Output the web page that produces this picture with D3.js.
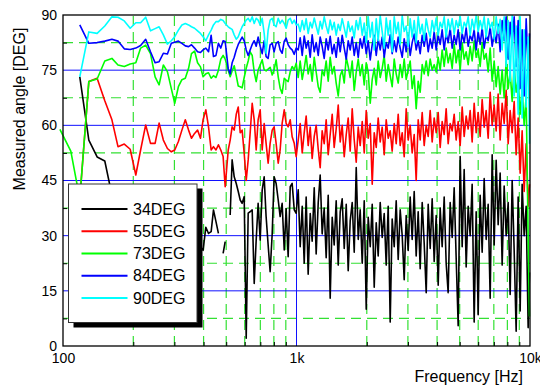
<!DOCTYPE html>
<html><head><meta charset="utf-8">
<script src="https://cdn.jsdelivr.net/npm/d3@7"></script>
<style>
body{margin:0;background:#fff;}
svg{display:block;font-family:"Liberation Sans",Arial,sans-serif;}
</style>
</head><body>
<svg id="chart" width="540" height="388"></svg>
<script>
// ---------- DATA ----------
const freqs = [97,108,118,129,140,151,162,172,183,194,205,215,226,237,248,258,269,280,291,301,
312,323,334,345,355,366,377,388,398,409,420,431,441,452,463,474,485,495,
510,520,530,541,552,563,574,585,597,609,621,633,646,659,672,685,699,713,727,741,
756,771,787,802,818,835,851,868,886,903,921,940,958,978,997,
1017,1037,1058,1079,1100,1122,1145,1167,1191,1214,1239,1263,1288,1314,1340,1367,1394,1422,1450,1479,
1509,1539,1569,1601,1633,1665,1698,1732,1767,1802,1838,1874,1912,1950,1989,2028,2069,2110,2152,2195,
2238,2283,2328,2375,2422,2470,2519,2569,2621,2673,2726,2780,2836,2892,2950,3008,3068,3129,3192,3255,
3320,3386,3454,3522,3593,3664,3737,3811,3887,3965,4044,4124,4206,4290,4375,4462,4551,4642,4734,4828,
4925,5023,5123,5225,5329,5435,5543,5653,5766,5881,5998,6117,6239,6364,6490,6620,6752,6886,7023,7163,
7305,7451,7599,7751,7905,8062,8223,8387,8554,8724,8898,9075,9255,9440,9628,9819,9950];

const deg34 = [null,null,73.2,56.0,51.4,50.3,41.0,38.0,36.0,39.0,34.0,36.0,33.0,37.0,32.0,35.0,30.0,34.0,31.0,35.0,
29.0,33.0,30.0,34.0,28.0,32.0,30.0,27.0,26.0,32.3,30.6,31.1,37.0,33.8,30.6,null,25.2,28.4,
null,35.6,50.6,46.0,44.2,42.0,39.7,38.8,40.6,2.1,36.1,36.5,37.0,17.0,28.8,38.8,28.8,42.4,46.0,35.2,
27.5,20.2,30.6,46.0,44.2,39.7,35.2,38.8,26.1,37.4,24.3,43.3,44.2,37.0,36.1,
42.5,27.0,38.0,22.5,40.5,19.5,36.0,28.5,43.0,25.0,39.0,46.5,30.5,37.5,24.0,41.0,13.0,35.0,27.5,39.5,
22.0,36.5,40.0,26.5,38.5,20.5,34.0,39.0,25.5,48.5,29.0,37.0,22.5,39.5,10.0,35.0,27.0,38.5,16.0,33.5,
24.5,39.0,29.5,36.0,22.0,38.0,6.5,34.5,27.0,39.5,23.5,37.0,30.0,18.0,35.5,26.0,40.5,29.0,42.0,24.5,
36.5,21.0,39.0,28.0,14.5,38.5,26.5,40.0,23.0,35.5,16.5,37.5,27.0,40.5,22.5,14.5,39.0,29.5,43.0,24.0,
5.5,51.5,27.0,48.0,21.5,38.0,30.0,44.0,6.5,36.5,8.5,41.0,25.5,45.5,29.0,38.5,13.0,52.0,27.5,50.5,
33.0,47.0,22.0,43.5,30.0,39.0,14.0,45.0,26.0,4.0,40.5,9.5,44.0,30.0,38.0,5.0,20.0];

const deg55 = [null,null,40.0,71.9,72.8,66.7,61.5,54.2,54.9,53.5,46.5,53.3,60.1,55.1,55.1,60.6,56.0,53.7,52.8,53.3,
55.6,58.7,61.5,58.7,56.5,57.8,58.7,56.5,61.5,64.2,59.6,53.3,54.2,53.3,54.7,53.3,51.5,43.3,
53.3,56.0,59.6,58.7,63.0,65.0,58.0,58.7,52.4,45.0,50.6,57.8,66.0,61.5,53.3,61.5,64.2,53.3,60.5,55.1,
49.7,55.1,58.7,59.6,55.1,49.7,53.3,60.5,64.2,60.5,59.6,61.5,56.9,55.1,51.5,
56.0,60.5,52.5,58.0,62.5,54.5,59.5,51.0,57.0,60.0,53.5,48.5,58.5,55.0,61.5,52.0,57.5,63.0,54.0,59.0,
65.5,55.5,60.0,51.5,57.5,62.0,53.0,64.5,56.0,50.0,59.5,54.5,61.0,52.5,64.0,56.5,60.5,44.0,58.0,54.0,
62.0,55.5,59.5,52.0,61.5,56.5,58.5,53.0,60.5,55.0,63.0,54.5,58.0,51.5,64.5,56.0,60.0,52.5,57.5,45.0,
61.5,56.0,63.5,54.5,60.0,57.0,64.0,55.5,62.0,58.0,63.5,54.0,61.0,57.5,64.5,55.0,60.5,58.5,63.0,56.0,
61.0,54.5,65.0,57.0,62.5,59.0,64.0,55.5,66.0,58.0,63.5,57.0,67.0,59.5,64.0,56.5,69.0,60.0,65.5,58.5,
68.5,56.0,66.0,60.5,69.5,55.0,64.0,58.0,66.5,52.0,62.0,47.0,58.5,42.0,55.0,38.0,44.0];

const deg73 = [58.9,53.0,40.0,71.9,72.6,77.5,78.2,76.4,76.0,76.7,77.0,81.0,81.8,79.5,73.2,71.0,76.4,74.6,70.0,66.0,
70.5,72.4,72.8,75.5,79.5,80.2,77.0,75.9,73.2,74.0,74.3,72.8,73.5,73.0,75.0,78.0,79.0,78.0,
75.0,73.2,74.8,76.2,73.5,70.7,70.5,70.2,73.0,75.5,77.5,80.0,79.0,74.5,71.9,75.0,76.4,77.8,75.1,74.8,
75.3,75.8,73.7,75.1,77.8,73.2,70.1,68.7,72.8,72.3,71.9,74.6,76.0,75.1,76.9,
73.0,77.5,72.5,75.5,79.0,74.0,76.5,72.0,78.5,74.5,70.5,69.0,75.0,73.5,77.5,72.0,78.5,74.0,76.0,71.5,
68.0,73.5,75.0,71.5,78.5,76.0,73.0,77.5,69.5,74.5,78.0,73.5,76.5,71.0,77.0,74.5,66.0,72.5,75.5,71.0,
77.5,73.0,75.5,79.0,72.0,76.5,73.5,70.5,78.0,74.0,71.5,76.5,73.0,78.0,72.5,75.0,77.5,70.0,73.5,64.5,
72.0,69.0,76.5,74.0,77.5,73.5,78.0,75.0,76.5,74.5,78.5,75.0,80.5,76.0,81.0,77.0,79.5,75.5,82.0,77.0,
80.5,75.0,82.5,78.0,80.0,76.5,81.5,77.5,83.0,78.5,80.5,76.0,82.5,78.0,79.5,74.5,81.0,72.0,77.5,70.5,
76.0,68.5,75.0,67.5,77.5,70.0,74.5,66.5,76.0,69.0,72.5,63.0,70.0,60.0,68.0,30.0,8.0];

const deg84 = [null,null,87.3,82.3,82.5,82.9,83.4,82.9,80.8,80.6,81.0,81.7,83.4,80.0,77.0,77.3,79.6,79.4,82.3,82.6,
82.9,82.3,81.6,81.4,81.9,81.0,80.0,79.8,80.5,81.0,80.0,84.5,78.7,79.0,82.3,81.0,83.0,82.8,
75.4,74.0,77.0,78.5,80.5,82.0,83.0,84.0,83.0,80.5,79.0,80.5,82.0,83.0,81.5,84.0,81.5,79.5,83.0,78.7,
78.2,81.9,82.3,80.0,82.3,82.8,80.5,79.6,82.8,83.7,81.9,81.0,80.5,79.3,81.0,
80.5,83.8,79.0,84.3,81.0,83.0,78.5,84.6,80.0,82.5,79.0,84.0,81.5,78.2,83.5,80.5,84.2,79.5,82.0,78.5,
83.8,80.0,84.5,81.0,78.0,83.0,80.5,84.0,79.0,82.5,78.5,83.5,81.0,84.2,79.5,83.0,77.8,82.0,84.5,79.0,
83.5,80.5,84.0,78.5,82.5,81.0,84.6,79.5,83.0,80.0,84.0,81.0,78.5,83.5,80.0,84.5,79.0,82.5,84.8,80.5,
83.0,79.5,84.5,81.5,85.0,80.0,83.5,81.0,85.5,80.5,84.5,82.0,86.0,80.5,85.0,82.5,86.5,81.0,84.5,82.0,
86.0,80.5,85.0,82.5,86.5,81.5,84.5,83.0,86.0,80.5,85.5,82.0,86.5,81.0,84.5,83.0,86.8,81.5,85.0,82.5,
87.5,80.0,88.5,83.0,89.5,78.0,88.0,82.0,89.5,76.0,88.5,70.0,86.0,68.0,89.0,75.0,85.0];

const deg90 = [null,null,73.2,85.4,85.0,87.0,89.5,89.4,88.4,86.4,87.9,87.9,89.4,85.7,86.3,86.8,84.6,82.1,83.0,84.1,
85.9,87.3,87.7,87.3,86.8,86.4,85.7,85.0,84.1,83.0,84.6,85.9,87.3,88.2,88.2,88.8,88.5,87.7,
86.8,86.4,86.1,84.6,83.4,84.1,85.5,86.8,87.7,88.6,89.1,88.2,89.5,87.7,89.1,88.6,87.3,89.1,85.0,79.6,
85.9,88.6,89.1,87.3,86.8,89.1,87.7,88.6,87.7,86.4,88.6,89.1,87.7,88.6,87.3,
87.5,85.5,88.5,86.0,89.0,85.0,88.0,86.5,89.2,87.0,84.8,88.3,86.2,89.5,87.0,85.0,88.6,86.0,88.0,84.5,
87.5,85.8,89.0,86.5,84.0,88.2,85.5,87.0,83.8,88.5,86.0,89.3,84.5,87.8,82.5,89.5,84.0,88.0,80.5,89.0,
83.0,89.8,85.5,81.0,89.2,84.5,88.5,80.0,89.5,85.0,88.0,82.0,89.8,85.5,87.0,81.5,89.0,84.0,88.5,82.5,
89.5,85.0,87.5,83.0,89.0,86.0,84.0,88.5,85.5,89.2,84.5,88.0,86.5,89.5,84.0,88.8,86.0,89.0,84.8,88.5,
86.5,89.6,85.0,88.0,86.8,89.5,84.5,88.8,86.0,89.8,85.5,88.5,86.2,89.5,84.0,89.0,86.5,88.0,83.5,89.5,
85.0,88.8,80.5,89.5,76.0,88.5,72.0,89.8,68.0,87.0,63.0,89.5,62.0,86.0,65.0,84.0,55.0];

const seriesNames = ["34DEG","55DEG","73DEG","84DEG","90DEG"];
const seriesValues = [deg34, deg55, deg73, deg84, deg90];
const seriesColors = ["#000000","#ff0000","#00ff00","#0000ff","#00ffff"];

const yMajor = [0,15,30,45,60,75,90];
const yMinor = [7.5,22.5,37.5,52.5,67.5,82.5];
const xMajor = [100,1000,10000];
const xMajorLabels = ["100","1k","10k"];
const xMinor = [200,300,400,500,600,700,800,900,2000,3000,4000,5000,6000,7000,8000,9000];

seriesValues.forEach((s,i)=>{ if(s.length!==freqs.length) throw new Error(seriesNames[i]+" length "+s.length+" vs "+freqs.length); });

// ---------- CHART ----------
const svg = d3.select("#chart");
const L=63, R=530, T=15, B=346;
const x = d3.scaleLog().domain([100,10000]).range([L,R]);
const y = d3.scaleLinear().domain([0,90]).range([B,T]);

const grid = svg.append("g");
grid.selectAll(".hm").data(yMinor).join("line")
  .attr("x1",L).attr("x2",R).attr("y1",d=>y(d)).attr("y2",d=>y(d))
  .attr("stroke","#33e033").attr("stroke-width",1.2).attr("stroke-dasharray","10,6");
grid.selectAll(".vm").data(xMinor).join("line")
  .attr("y1",B).attr("y2",T).attr("x1",d=>x(d)).attr("x2",d=>x(d))
  .attr("stroke","#33e033").attr("stroke-width",1.2).attr("stroke-dasharray","10,6");
grid.selectAll(".hM").data(yMajor.filter(d=>d>0&&d<90)).join("line")
  .attr("x1",L).attr("x2",R).attr("y1",d=>y(d)).attr("y2",d=>y(d))
  .attr("stroke","#1010ff").attr("stroke-width",1);
grid.selectAll(".vM").data([1000]).join("line")
  .attr("y1",B).attr("y2",T).attr("x1",d=>x(d)).attr("x2",d=>x(d))
  .attr("stroke","#1010ff").attr("stroke-width",1);

const line = d3.line()
  .defined(d=>d[1]!==null)
  .x(d=>x(d[0])).y(d=>y(d[1]));
seriesValues.forEach((vals,i)=>{
  const pts = freqs.map((f,k)=>[f, vals[k]]);
  svg.append("path").datum(pts)
    .attr("fill","none").attr("stroke",seriesColors[i])
    .attr("stroke-width",1.6).attr("stroke-linejoin","round")
    .attr("d",line);
});

svg.append("rect").attr("x",L).attr("y",T).attr("width",R-L).attr("height",B-T)
  .attr("fill","none").attr("stroke","#000").attr("stroke-width",1.3);

const xAxis = svg.append("g").attr("transform",`translate(0,${B})`)
  .call(d3.axisBottom(x).tickValues(xMajor).tickFormat((d,i)=>xMajorLabels[i]).tickSize(0).tickPadding(7));
const xAxisMinor = svg.append("g").attr("transform",`translate(0,${B})`)
  .call(d3.axisBottom(x).tickValues(xMinor).tickFormat("").tickSize(-4));
const yAxis = svg.append("g").attr("transform",`translate(${L},0)`)
  .call(d3.axisLeft(y).tickValues(yMajor).tickFormat(d3.format("d")).tickSize(0).tickPadding(6));
const yAxisMinor = svg.append("g").attr("transform",`translate(${L},0)`)
  .call(d3.axisLeft(y).tickValues(yMinor).tickFormat("").tickSize(-4));
[xAxis,xAxisMinor,yAxis,yAxisMinor].forEach(g=>{
  g.select(".domain").remove();
  g.selectAll("text").attr("font-size",14).attr("fill","#000")
    .attr("font-family",'"Liberation Sans",Arial,sans-serif');
  g.selectAll("line").attr("stroke","#000");
});

svg.append("text").attr("x",523).attr("y",382).attr("text-anchor","end")
  .attr("font-size",16).text("Frequency [Hz]");
svg.append("text").attr("transform","translate(25,109) rotate(-90)")
  .attr("text-anchor","middle").attr("font-size",16).text("Measured angle [DEG]");

const lg = svg.append("g");
lg.append("rect").attr("x",73.5).attr("y",188.5).attr("width",129).attr("height",139).attr("fill","#000");
lg.append("rect").attr("x",68.5).attr("y",184).attr("width",128.5).attr("height",138.5)
  .attr("fill","#fff").attr("stroke","#333").attr("stroke-width",1);
const rowY = d3.scalePoint().domain(seriesNames).range([209,298]);
seriesNames.forEach((n,i)=>{
  lg.append("line").attr("x1",81.5).attr("x2",127.5).attr("y1",rowY(n)).attr("y2",rowY(n))
    .attr("stroke",seriesColors[i]).attr("stroke-width",2);
  lg.append("text").attr("x",133).attr("y",rowY(n)+5.6).attr("font-size",16).text(n);
});
</script>
</body></html>
